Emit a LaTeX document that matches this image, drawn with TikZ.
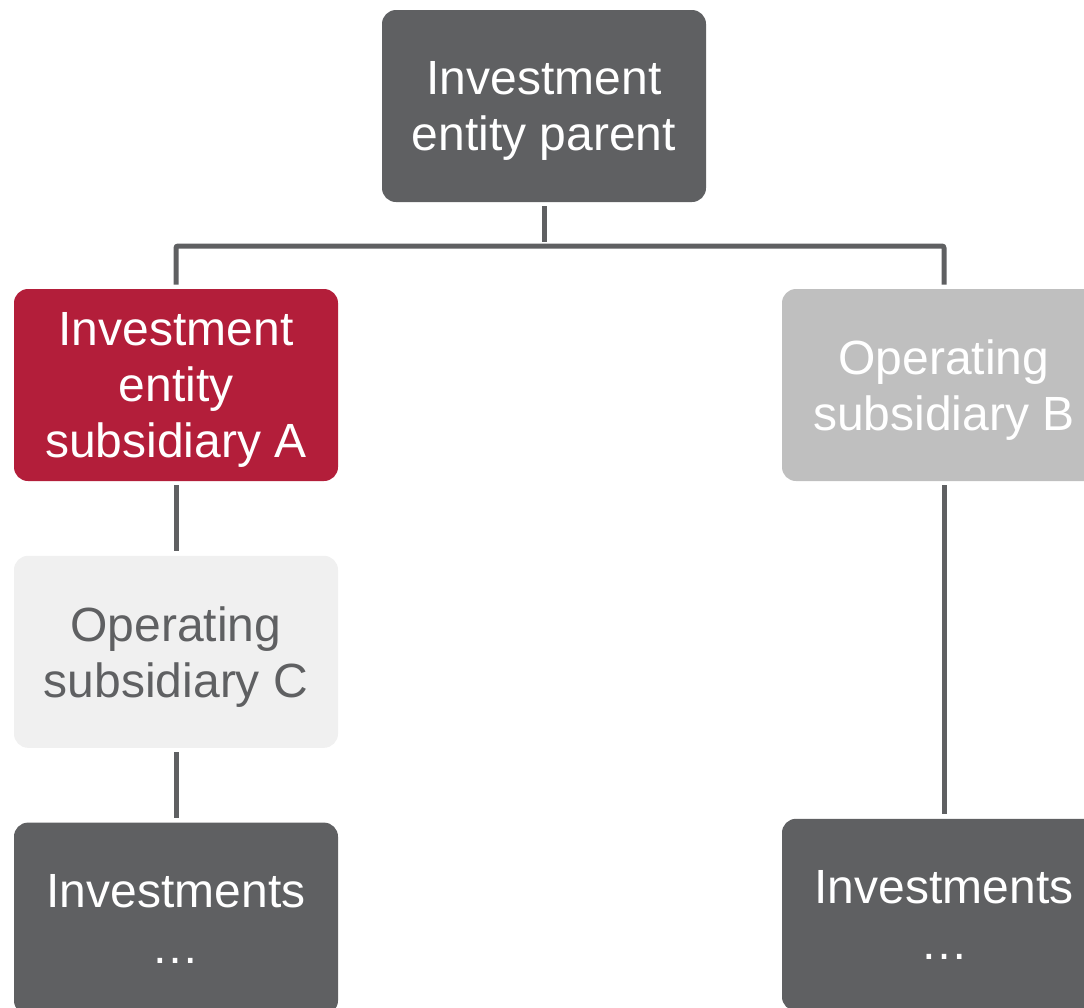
\documentclass[tikz,border=0pt]{standalone}
\usepackage{fontspec}
\setmainfont{Liberation Sans}
\usepackage{tikz}
\usetikzlibrary{positioning}
\definecolor{darkbox}{HTML}{5F6062}
\definecolor{redbox}{HTML}{B31E3A}
\definecolor{midbox}{HTML}{BFBFBF}
\definecolor{lightbox}{HTML}{F0F0F0}
\def\BoxWidth{162pt}
\def\BoxHeight{96pt}
\def\BoxGap{37pt}

\begin{document}
\begin{tikzpicture}[x=0.5pt,y=-0.5pt,
	entity/.style={rectangle,rounded corners=7pt,minimum width=\BoxWidth,minimum height=\BoxHeight,
		inner sep=0pt,align=center,text depth=0pt,font=\fontsize{24}{28}\selectfont},
	darkent/.style={entity,fill=darkbox,text=white},
	link/.style={draw=darkbox,line width=2.5pt,shorten <=2pt,shorten >=2pt}]
			\useasboundingbox (0,0) rectangle (1084,1008);
			\clip (0,0) rectangle (1084,1008);
			\node[darkent] (parent) at (544,106) {Investment\\entity parent};
			\node[entity,fill=redbox,text=white] (subA) at (176,385) {Investment\\entity\\subsidiary A};
			\node[entity,fill=midbox,text=white] (subB) at (944,385) {Operating\\subsidiary B};
			\node[entity,fill=lightbox,text=darkbox,below=\BoxGap of subA] (subC) {Operating\\subsidiary C};
			\node[darkent,below=\BoxGap of subC] (invL) {Investments\\…};
			\node[darkent,below=168.5pt of subB] (invR) {Investments\\…};
			% 
			\coordinate (bus) at (544,246);
			% 
			\draw[link] (parent.south) -- (bus);
			\draw[link,rounded corners=1pt] (subA.north) |- (bus) -| (subB.north);
			\draw[link] (subA.south) -- (subC.north);
			\draw[link] (subC.south) -- (invL.north);
			\draw[link] (subB.south) -- (invR.north);
		\end{tikzpicture}
\end{document}
